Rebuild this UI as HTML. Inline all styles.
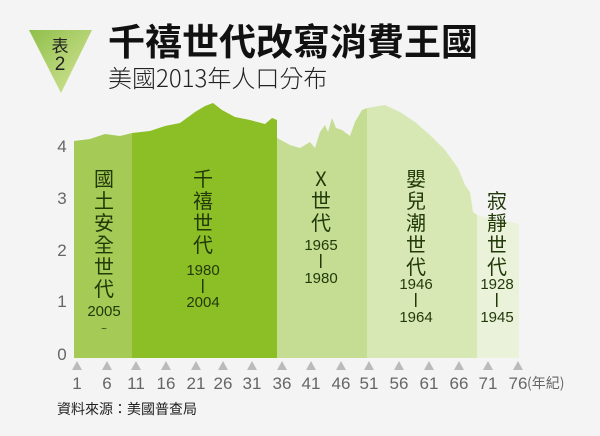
<!DOCTYPE html>
<html><head><meta charset="utf-8"><style>
body{margin:0;width:600px;height:436px;background:#f4f4f4;overflow:hidden;font-family:"Liberation Sans","Noto Sans CJK TC",sans-serif;}
</style></head><body>
<svg width="600" height="436" xmlns="http://www.w3.org/2000/svg" style="position:absolute;left:0;top:0">
<defs><linearGradient id="g" x1="0" y1="0" x2="1" y2="1"><stop offset="0" stop-color="#8fbf4a"/><stop offset="1" stop-color="#d7e69a"/></linearGradient></defs>
<polygon points="29,30 92,30 61,93" fill="url(#g)"/>
<text x="60" y="52" font-size="17" text-anchor="middle" fill="#222" font-family="Noto Sans CJK TC,sans-serif">表</text>
<text x="60" y="70" font-size="19" text-anchor="middle" fill="#222">2</text>
<text x="108" y="55" font-size="37" font-weight="bold" fill="#111" font-family="Noto Sans CJK TC,sans-serif">千禧世代改寫消費王國</text>
<text x="108" y="87" font-size="24" fill="#222" font-family="Noto Sans CJK TC,sans-serif" font-weight="300">美國2013年人口分布</text>
<path d="M74,358 L74,141 L90,139 L105,134 L120,136 L132,133 L132,358Z" fill="#a5ca55"/>
<path d="M132,358 L132,133 L150,131 L165,126 L180,123 L195,112 L205,106 L213,103 L222,110 L235,117 L250,120 L265,124 L272,118 L277,120 L277,358Z" fill="#8cbe26"/>
<path d="M277,358 L277,138 L290,145 L300,148 L310,142 L315,148 L320,132 L325,125 L328,132 L332,118 L336,128 L342,130 L350,136 L355,122 L362,110 L367,108 L367,358Z" fill="#c4dd92"/>
<path d="M367,358 L367,108 L385,105 L400,112 L415,122 L430,135 L445,150 L458,168 L465,185 L470,192 L473,212 L477,215 L477,358Z" fill="#d8e8b5"/>
<path d="M477,358 L477,215 L490,218 L505,221 L519,224 L519,358Z" fill="#ebf2da"/>
<g fill="#bbb">
<path d="M72,370 l5,-9 l5,9Z"/><path d="M102,370 l5,-9 l5,9Z"/><path d="M131,370 l5,-9 l5,9Z"/><path d="M161,370 l5,-9 l5,9Z"/><path d="M191,370 l5,-9 l5,9Z"/><path d="M218,370 l5,-9 l5,9Z"/><path d="M247,370 l5,-9 l5,9Z"/><path d="M277,370 l5,-9 l5,9Z"/><path d="M306,370 l5,-9 l5,9Z"/><path d="M336,370 l5,-9 l5,9Z"/><path d="M364,370 l5,-9 l5,9Z"/><path d="M394,370 l5,-9 l5,9Z"/><path d="M424,370 l5,-9 l5,9Z"/><path d="M454,370 l5,-9 l5,9Z"/><path d="M483,370 l5,-9 l5,9Z"/><path d="M513,370 l5,-9 l5,9Z"/>
</g>
<g font-size="17" fill="#666" text-anchor="middle">
<text x="77" y="389">1</text><text x="107" y="389">6</text><text x="136" y="389">11</text><text x="166" y="389">16</text><text x="196" y="389">21</text><text x="223" y="389">26</text><text x="252" y="389">31</text><text x="282" y="389">36</text><text x="311" y="389">41</text><text x="341" y="389">46</text><text x="369" y="389">51</text><text x="399" y="389">56</text><text x="429" y="389">61</text><text x="459" y="389">66</text><text x="488" y="389">71</text><text x="518" y="389">76</text>
</g>
<text x="527" y="388" font-size="14" fill="#666" font-family="Noto Sans CJK TC,sans-serif">(年紀)</text>
<g font-size="17" fill="#666" text-anchor="middle">
<text x="62" y="152">4</text><text x="62" y="204">3</text><text x="62" y="256">2</text><text x="62" y="307">1</text><text x="62" y="360">0</text>
</g>
<text x="57" y="414" font-size="14" fill="#222" font-family="Noto Sans CJK TC,sans-serif">資料來源：美國普查局</text>
<g font-size="20" fill="#223a0a" text-anchor="middle" font-family="Noto Sans CJK TC,sans-serif">
<text x="104" y="186">國</text><text x="104" y="208">土</text><text x="104" y="230">安</text><text x="104" y="252">全</text><text x="104" y="274">世</text><text x="104" y="296">代</text>
<text x="203" y="186">千</text><text x="203" y="208">禧</text><text x="203" y="230">世</text><text x="203" y="252">代</text>
<text x="321" y="186">X</text><text x="321" y="208">世</text><text x="321" y="230">代</text>
<text x="416" y="186">嬰</text><text x="416" y="208">兒</text><text x="416" y="230">潮</text><text x="416" y="252">世</text><text x="416" y="274">代</text>
<text x="497" y="208">寂</text><text x="497" y="230">靜</text><text x="497" y="252">世</text><text x="497" y="274">代</text>
</g>
<g font-size="15" fill="#223a0a" text-anchor="middle">
<text x="104" y="316">2005</text><text x="104" y="332" font-size="10">~</text>
<text x="203" y="275">1980</text><rect x="202" y="279" width="1.5" height="14"/><text x="203" y="307">2004</text>
<text x="321" y="250">1965</text><rect x="320" y="254" width="1.5" height="14"/><text x="321" y="283">1980</text>
<text x="416" y="289">1946</text><rect x="415" y="293" width="1.5" height="14"/><text x="416" y="322">1964</text>
<text x="497" y="289">1928</text><rect x="496" y="293" width="1.5" height="14"/><text x="497" y="322">1945</text>
</g>
</svg>
</body></html>
